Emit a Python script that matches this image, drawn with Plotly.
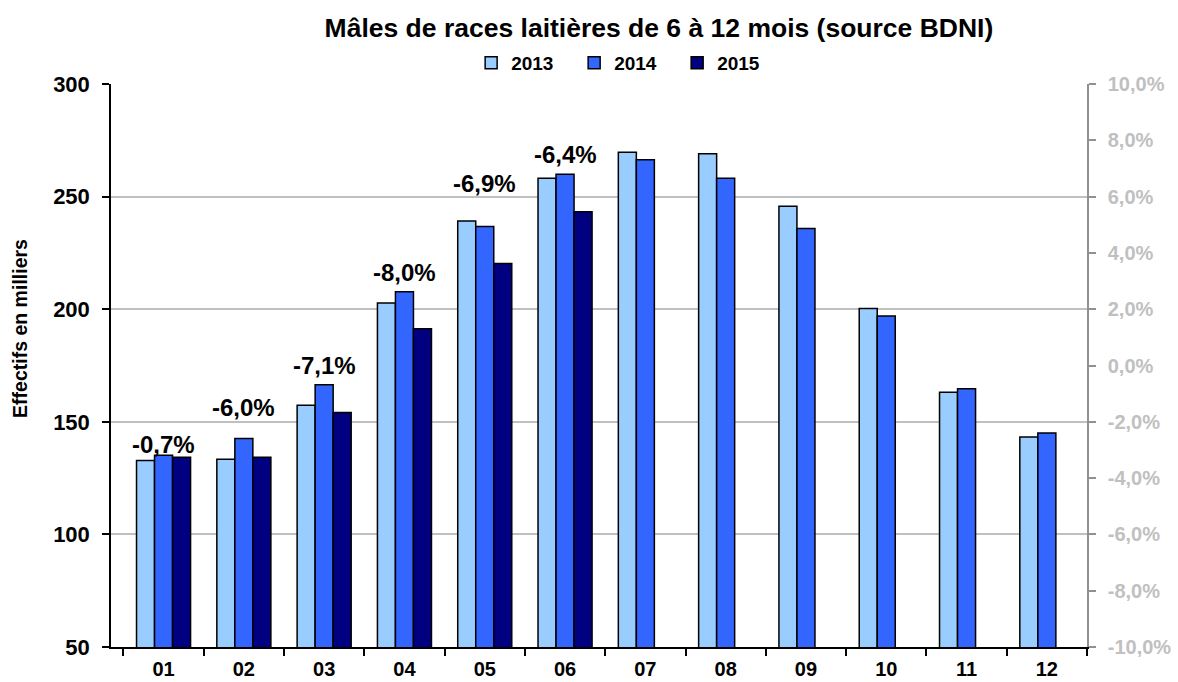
import plotly.graph_objects as go

months = ["01", "02", "03", "04", "05", "06", "07", "08", "09", "10", "11", "12"]
v2013 = [132.8, 133.4, 157.4, 202.8, 239.2, 258.1, 269.7, 269.0, 245.7, 200.3, 163.1, 143.3]
v2014 = [135.2, 142.6, 166.4, 207.7, 236.7, 259.9, 266.4, 258.1, 235.8, 197.0, 164.7, 145.0]
v2015 = [134.3, 134.3, 154.1, 191.3, 220.3, 243.3, None, None, None, None, None, None]
var_labels = ["-0,7%", "-6,0%", "-7,1%", "-8,0%", "-6,9%", "-6,4%"]
var_label_y = [140.0, 156.5, 175.2, 216.5, 256.0, 268.6]
right_tick_vals = [-0.10, -0.08, -0.06, -0.04, -0.02, 0.0, 0.02, 0.04, 0.06, 0.08, 0.10]
right_tick_text = ["-10,0%", "-8,0%", "-6,0%", "-4,0%", "-2,0%", "0,0%",
                   "2,0%", "4,0%", "6,0%", "8,0%", "10,0%"]

colors = {"2013": "#99CCFF", "2014": "#3366FF", "2015": "#000080"}
FONT = "Liberation Sans, Arial, sans-serif"

fig = go.Figure()
for name, vals in [("2013", v2013), ("2014", v2014), ("2015", v2015)]:
    fig.add_trace(go.Bar(
        x=months, y=vals, name="<b>%s</b>" % name,
        marker=dict(color=colors[name], line=dict(color="#000000", width=1.5)),
    ))

# invisible trace to activate secondary axis
fig.add_trace(go.Scatter(x=[months[0]], y=[0], yaxis="y2", mode="markers",
                         marker=dict(opacity=0), showlegend=False, hoverinfo="skip"))

for i, (lab, ly) in enumerate(zip(var_labels, var_label_y)):
    fig.add_annotation(x=i, y=ly, text="<b>%s</b>" % lab, showarrow=False,
                       font=dict(family=FONT, size=24, color="#000000"),
                       xref="x", yref="y")

# y axis title as annotation
fig.add_annotation(x=0, y=0.565, xref="paper", yref="paper", xshift=-91,
                   xanchor="center", yanchor="middle",
                   text="<b>Effectifs en milliers</b>", textangle=-90, showarrow=False,
                   font=dict(family=FONT, size=19.5, color="#000000"))

fig.update_layout(
    width=1178, height=682,
    margin=dict(l=111, r=91, t=84, b=35),
    paper_bgcolor="white", plot_bgcolor="white",
    barmode="group", bargap=0.327, bargroupgap=0,
    font=dict(family=FONT, color="#000000"),
    title=dict(text="<b>Mâles de races laitières de 6 à 12 mois (source BDNI)</b>",
               x=0.5594, xanchor="center", y=0.959, yanchor="middle",
               font=dict(family=FONT, size=26.5, color="#000000")),
    legend=dict(orientation="h", x=0.369, xanchor="left", y=1.0373, yanchor="middle",
                font=dict(family=FONT, size=19, color="#000000"),
                itemwidth=30, entrywidth=58, entrywidthmode="pixels",
                bgcolor="rgba(0,0,0,0)"),
    xaxis=dict(
        type="category", automargin=False,
        tickson="boundaries", ticks="outside", ticklen=7, tickcolor="#000000", tickwidth=1.5,
        showline=True, linecolor="#000000", linewidth=1.5,
        tickfont=dict(family=FONT, size=20, color="#000000"),
        tickprefix="<b>", ticksuffix="</b>", showgrid=False,
        ticklabelstandoff=3,
    ),
    yaxis=dict(
        automargin=False,
        range=[50, 300], dtick=50, tick0=50,
        ticks="outside", ticklen=7, tickcolor="#000000", tickwidth=1.5,
        showline=True, linecolor="#000000", linewidth=1.5,
        showgrid=True, gridcolor="#C0C0C0", gridwidth=1.5,
        tickfont=dict(family=FONT, size=22, color="#000000"),
        tickprefix="<b>", ticksuffix="</b>", zeroline=False,
        ticklabelstandoff=8,
    ),
    yaxis2=dict(
        automargin=False,
        overlaying="y", side="right", range=[-0.1, 0.1],
        tickmode="array", tickvals=right_tick_vals,
        ticktext=["<b>%s</b>" % t for t in right_tick_text],
        ticks="outside", ticklen=7, tickcolor="#909090", tickwidth=1.5,
        showline=True, linecolor="#909090", linewidth=1.5, showgrid=False, zeroline=False,
        tickfont=dict(family=FONT, size=20, color="#C0C0C0"),
        ticklabelstandoff=8,
    ),
)

fig.write_html("out.html", config={"displayModeBar": False},
               post_script="document.body.style.margin='0px';")
